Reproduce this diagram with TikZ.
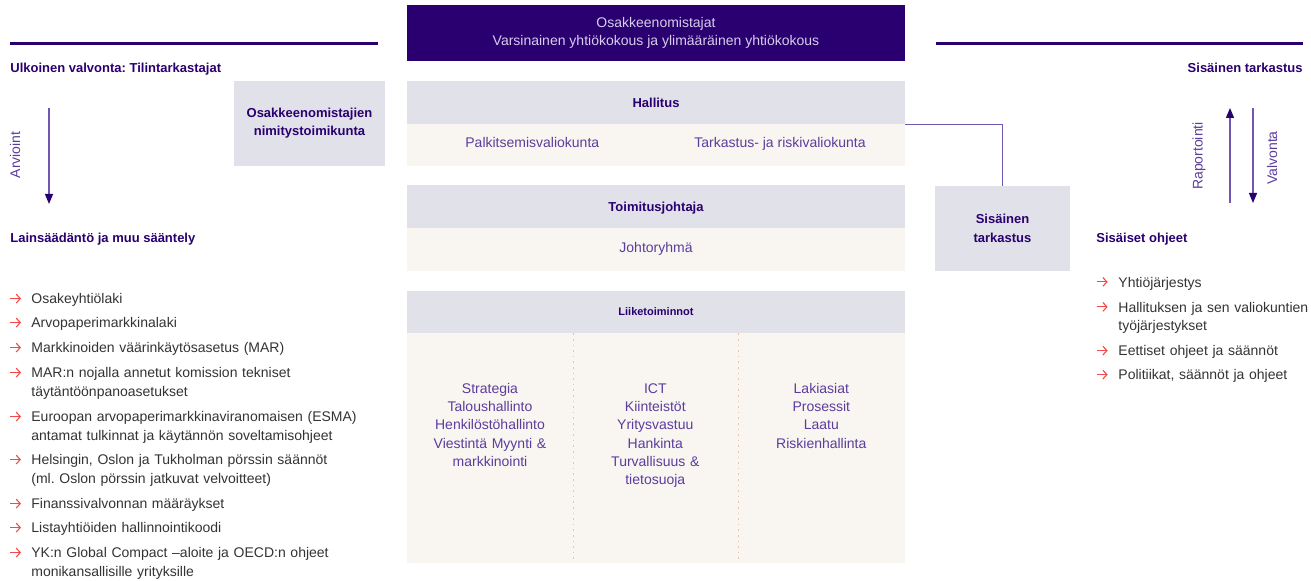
\documentclass[tikz,border=0pt]{standalone}
\usepackage{fontspec}
\setmainfont{Liberation Sans}
\usetikzlibrary{arrows.meta,positioning}
\frenchspacing

\definecolor{deeppurple}{HTML}{2A0070}
\definecolor{midpurple}{HTML}{5B3D9C}
\definecolor{linepurple}{HTML}{7256B4}
\definecolor{boxgray}{HTML}{E1E1EA}
\definecolor{boxcream}{HTML}{F9F5F1}
\definecolor{paletext}{HTML}{D6CEEC}
\definecolor{listgray}{HTML}{333333}
\definecolor{bulletred}{HTML}{F04A4A}
\definecolor{dotpeach}{HTML}{F2C2A8}

\newcommand\regfont{\fontsize{7}{9.35}\selectfont}
\newcommand\headfont{\fontsize{6.5}{9.2}\selectfont\bfseries}

\tikzset{
  graybox/.style={fill=boxgray, minimum width=249pt, minimum height=21.5pt, font=\headfont, text=deeppurple, text height=4.7pt, text depth=0pt},
  creambox/.style={fill=boxcream, minimum width=249pt, minimum height=20.85pt},
  sidebox/.style={fill=boxgray, font=\headfont, text=deeppurple, align=center, minimum height=42.3pt},
  boxtext/.style={text=midpurple, font=\regfont, anchor=base, align=center},
  coltext/.style={boxtext, font=\fontsize{7}{9.15}\selectfont, text width=80pt},
  heading/.style={text=deeppurple, font=\headfont},
  listtext/.style={text=listgray, font=\regfont, align=left, anchor=base west},
  bulletarrow/.style={draw=bulletred, line width=0.55pt, -{Straight Barb[length=2pt,width=4.4pt]}},
  sideline/.style={draw=deeppurple, line width=1.5pt},
  flowarrow/.style={draw=linepurple, line width=0.6pt, -{Triangle[length=5pt,width=4pt,color=deeppurple]}},
  sidelabel/.style={rotate=90, text=midpurple, font=\regfont},
}

\begin{document}
\begin{tikzpicture}[x=0.5pt, y=-0.5pt, every node/.append style={inner sep=0pt}]
  \useasboundingbox (0,0) rectangle (1311,581);

  % Top rules
  \draw[sideline] (10,43.3) -- (378,43.3);
  \draw[sideline] (936,43.3) -- (1303,43.3);

  % Shareholders
  \node[fill=deeppurple, minimum width=249pt, minimum height=27.8pt, text=paletext,
        font=\fontsize{7}{8.85}\selectfont, align=center] (owners) at (656,32.8)
        {Osakkeenomistajat\\Varsinainen yhtiökokous ja ylimääräinen yhtiökokous};

  % Board and committees
  \node[graybox] (board) at (656,102.5) {Hallitus};
  \node[creambox] (boardcomm) at (656,144.85) {};
  \node[boxtext] (remcomm) at (532.3,147.7) {Palkitsemisvaliokunta};
  \node[boxtext] (auditcomm) at (780,147.7) {Tarkastus- ja riskivaliokunta};

  % CEO and management
  \node[graybox] (ceo) at (656,207) {Toimitusjohtaja};
  \node[creambox, minimum height=21.35pt] (mgmt) at (656,249.35) {};
  \node[boxtext] (mgmtteam) at (656,252.7) {Johtoryhmä};

  % Business functions
  \node[graybox, minimum height=20.85pt, font=\fontsize{5.5}{7}\selectfont\bfseries, text height=4pt] (business) at (656,311.85) {Liiketoiminnot};
  \node[creambox, minimum height=115.3pt] (busarea) at (656,448) {};
  \draw[dotpeach, line width=0.8pt, dotted] (573.3,333.5) -- (573.3,563);
  \draw[dotpeach, line width=0.8pt, dotted] (738.3,333.5) -- (738.3,563);
  \node[coltext] (colA) at (490,393.3)
    {Strategia\\Taloushallinto\\Henkilöstöhallinto\\Viestintä Myynti \&\\markkinointi};
  \node[coltext] (colB) at (655.3,393.3)
    {ICT\\Kiinteistöt\\Yritysvastuu\\Hankinta\\Turvallisuus \&\\tietosuoja};
  \node[coltext] (colC) at (821.3,393.3)
    {Lakiasiat\\Prosessit\\Laatu\\Riskienhallinta};

  % Side boxes
  \node[sidebox, minimum width=75.5pt] (nomination) at (309.5,123.3) {Osakkeenomistajien\\nimitystoimikunta};
  \node[sidebox, minimum width=67.5pt] (internal) at (1002.5,228.3) {Sisäinen\\tarkastus};
  \draw[linepurple, line width=0.6pt] (board.south east) -| (internal.north);

  % Left: external control
  \node[heading, anchor=base west] (extctrl) at (10,72.7) {Ulkoinen valvonta: Tilintarkastajat};
  \coordinate (evaltop) at (49,108);
  \coordinate (evalend) at (49,204);
  \draw[flowarrow] (evaltop) -- (evalend);
  \node[sidelabel] (evallabel) at (15,155) {Arvioint};
  \node[heading, anchor=base west] (laws) at (10,243) {Lainsäädäntö ja muu sääntely};

  \foreach \n/\y/\txt in {
      law1/304/{Osakeyhtiölaki},
      law2/328/{Arvopaperimarkkinalaki},
      law3/353/{Markkinoiden väärinkäytösasetus (MAR)},
      law4/378/{MAR:n nojalla annetut komission tekniset\\täytäntöönpanoasetukset},
      law5/422/{Euroopan arvopaperimarkkinaviranomaisen (ESMA)\\antamat tulkinnat ja käytännön soveltamisohjeet},
      law6/465/{Helsingin, Oslon ja Tukholman pörssin säännöt\\(ml. Oslon pörssin jatkuvat velvoitteet)},
      law7/509/{Finanssivalvonnan määräykset},
      law8/533/{Listayhtiöiden hallinnointikoodi},
      law9/558/{YK:n Global Compact –aloite ja OECD:n ohjeet\\monikansallisille yrityksille}}{
    \node[listtext, text width=190pt] (\n) at (31,\y) {\txt};
    \draw[bulletarrow] ([xshift=-10.5pt,yshift=2.7pt]\n.base west) -- ++(5.5pt,0);
  }

  % Right: internal audit
  \node[heading, anchor=base east] (intaudit) at (1303,72.7) {Sisäinen tarkastus};
  \coordinate (reptop) at (1230,108);
  \coordinate (repend) at (1230,203);
  \coordinate (sup1) at (1253,108);
  \coordinate (sup2) at (1253,203);
  \draw[flowarrow] (repend) -- (reptop);
  \draw[flowarrow] (sup1) -- (sup2);
  \node[sidelabel] (replabel) at (1199,156) {Raportointi};
  \node[sidelabel] (suplabel) at (1272,158) {Valvonta};
  \node[heading, anchor=base west] (rules) at (1096,243) {Sisäiset ohjeet};

  \foreach \n/\y/\txt in {
      rule1/287.3/{Yhtiöjärjestys},
      rule2/312.3/{Hallituksen ja sen valiokuntien\\työjärjestykset},
      rule3/356/{Eettiset ohjeet ja säännöt},
      rule4/380/{Politiikat, säännöt ja ohjeet}}{
    \node[listtext, text width=120pt] (\n) at (1118,\y) {\txt};
    \draw[bulletarrow] ([xshift=-10.7pt,yshift=2.7pt]\n.base west) -- ++(5.5pt,0);
  }
\end{tikzpicture}
\end{document}
